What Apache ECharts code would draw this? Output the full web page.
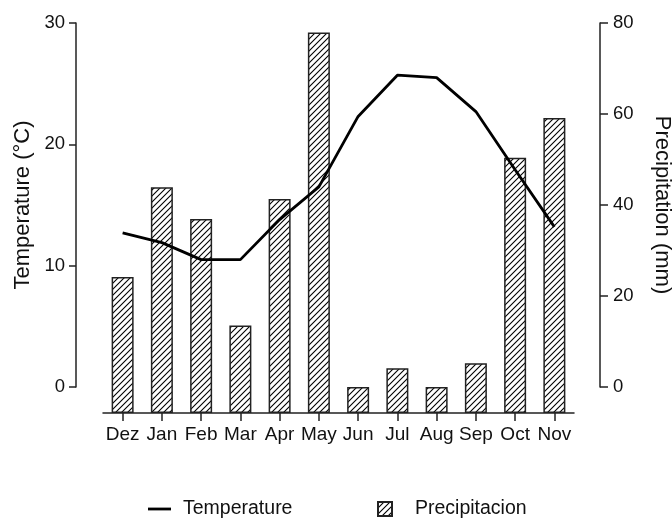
<!DOCTYPE html>
<html>
<head>
<meta charset="utf-8">
<script src="https://cdn.jsdelivr.net/npm/echarts@6/dist/echarts.min.js"></script>
<style>
html,body{margin:0;padding:0;background:#fff;}
#chart{width:672px;height:518px;}
</style>
</head>
<body>
<div id="chart"></div>
<script>
const months = ['Dez','Jan','Feb','Mar','Apr','May','Jun','Jul','Aug','Sep','Oct','Nov'];
const temperature = [12.7, 11.9, 10.5, 10.5, 13.8, 16.5, 22.3, 25.7, 25.5, 22.7, 17.9, 13.2];
const precipitation = [24.2, 43.9, 36.9, 13.5, 41.3, 77.9, 0, 4.1, 0, 5.2, 50.4, 59.1];
const tempTicks = [0, 10, 20, 30];
const precTicks = [0, 20, 40, 60, 80];

const FONT = 'Liberation Sans, Arial, sans-serif';

// hatch pattern
const tile = document.createElement('canvas');
tile.width = 6; tile.height = 6;
const c = tile.getContext('2d');
c.fillStyle = '#fff'; c.fillRect(0,0,6,6);
c.strokeStyle = '#000'; c.lineWidth = 1.1;
c.beginPath();
c.moveTo(-1,7); c.lineTo(7,-1);
c.moveTo(-1,1); c.lineTo(1,-1);
c.moveTo(5,7); c.lineTo(7,5);
c.stroke();
const hatch = {image: tile, repeat: 'repeat'};

const chart = echarts.init(document.getElementById('chart'), null, {renderer:'canvas'});
const axisColor = '#222';
chart.setOption({
  animation: false,
  grid: [
    {left:103, right:98, top:23, bottom:105, outerBoundsMode:'none', containLabel:false},
    {left:76, right:72, top:23, bottom:131, outerBoundsMode:'none', containLabel:false}
  ],
  legend: [
    {data:[{name:'Temperature', icon:'rect'}], left:143, top:494, itemWidth:23, itemHeight:2.8,
     textStyle:{fontFamily:FONT, fontSize:19.5, color:'#111', padding:[0,0,0,7]}},
    {data:[{name:'Precipitacion', icon:'rect'}], left:372, top:494, itemWidth:14, itemHeight:14,
     textStyle:{fontFamily:FONT, fontSize:19.5, color:'#111', padding:[0,0,0,18]}}
  ],
  xAxis: [
    {type:'category', gridIndex:0, data: months, boundaryGap:true,
     axisLine:{show:true, onZero:false, lineStyle:{color:axisColor, width:1.5}},
     axisTick:{show:true, alignWithLabel:true, length:8, lineStyle:{color:axisColor, width:1.5}},
     axisLabel:{fontFamily:FONT, fontSize:19, color:'#111', margin:12, interval:0}},
    {type:'category', gridIndex:1, data: months, show:false}
  ],
  yAxis: [
    {type:'value', gridIndex:0, min:-2.14, max:30, show:false, splitLine:{show:false}},
    {type:'value', gridIndex:0, min:-5.71, max:80, startValue:-5.71, show:false, splitLine:{show:false}},
    {type:'value', gridIndex:1, position:'left', min:tempTicks[0], max:tempTicks[tempTicks.length-1], interval:10,
     name:'Temperature (°C)', nameLocation:'middle', nameGap:41,
     nameTextStyle:{fontFamily:FONT, fontSize:22, color:'#111'},
     axisLine:{show:true, lineStyle:{color:axisColor, width:1.5}},
     axisTick:{show:true, length:7, lineStyle:{color:axisColor, width:1.5}},
     axisLabel:{fontFamily:FONT, fontSize:18.5, color:'#111', margin:11},
     splitLine:{show:false}},
    {type:'value', gridIndex:1, position:'right', min:precTicks[0], max:precTicks[precTicks.length-1], interval:20,
     name:'Precipitation (mm)', nameLocation:'middle', nameGap:51, nameRotate:-90,
     nameTextStyle:{fontFamily:FONT, fontSize:22, color:'#111'},
     axisLine:{show:true, lineStyle:{color:axisColor, width:1.5}},
     axisTick:{show:true, length:8, lineStyle:{color:axisColor, width:1.5}},
     axisLabel:{fontFamily:FONT, fontSize:18.5, color:'#111', margin:13},
     splitLine:{show:false}}
  ],
  series: [
    {name:'Precipitacion', type:'bar', xAxisIndex:0, yAxisIndex:1, data: precipitation, barWidth:22,
     itemStyle:{color: hatch, borderColor:'#222', borderWidth:1.5}},
    {name:'Temperature', type:'line', xAxisIndex:0, yAxisIndex:0, data: temperature,
     symbol:'none', lineStyle:{color:'#000', width:2.8}, itemStyle:{color:'#000'}, z:5}
  ]
});
</script>
</body>
</html>
